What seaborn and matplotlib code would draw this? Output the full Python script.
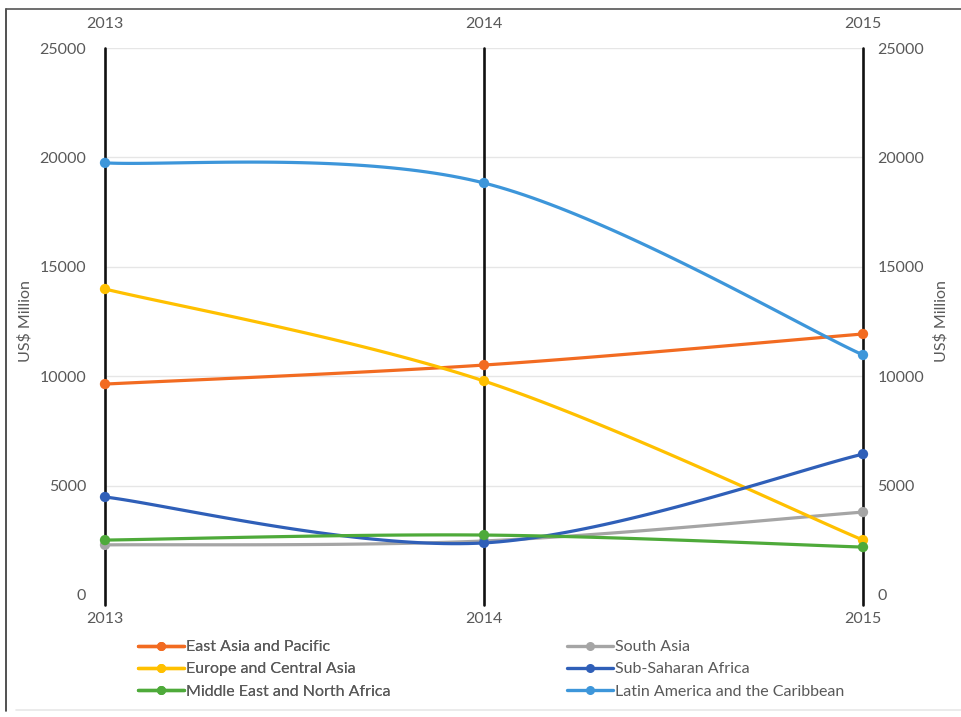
import numpy as np
import pandas as pd
import matplotlib
matplotlib.use("Agg")
import matplotlib.pyplot as plt
from matplotlib.lines import Line2D
import seaborn as sns

years = [2013, 2014, 2015]
series_names = ["East Asia and Pacific", "South Asia", "Europe and Central Asia",
                "Sub-Saharan Africa", "Middle East and North Africa",
                "Latin America and the Caribbean"]
east_asia = [9640, 10510, 11930]
south_asia = [2290, 2470, 3790]
europe = [13985, 9780, 2510]
sub_saharan = [4480, 2380, 6440]
mena = [2510, 2740, 2190]
latam = [19750, 18830, 10970]
values = [east_asia, south_asia, europe, sub_saharan, mena, latam]
colors = ["#F26B21", "#A5A5A5", "#FFC000", "#2F5FB8", "#4EAA3A", "#3D96DA"]
yticks = [0, 5000, 10000, 15000, 20000, 25000]

sns.set_theme(style="white")
plt.rcParams["font.family"] = ["Lato", "DejaVu Sans"]
TXT = "#595959"
FS = 11.5


def bezier_smooth(xs, ys, n=50):
    pts = np.column_stack([np.asarray(xs, float), np.asarray(ys, float)])
    out = []
    for i in range(len(pts) - 1):
        p0, p3 = pts[i], pts[i + 1]
        pm = pts[i - 1] if i > 0 else pts[i]
        pp = pts[i + 2] if i + 2 < len(pts) else pts[i + 1]
        c1 = p0 + (p3 - pm) / 6
        c2 = p3 - (pp - p0) / 6
        t = np.linspace(0, 1, n)[:, None]
        seg = (1 - t) ** 3 * p0 + 3 * (1 - t) ** 2 * t * c1 + 3 * (1 - t) * t ** 2 * c2 + t ** 3 * p3
        out.append(seg if i == 0 else seg[1:])
    return np.vstack(out)


rows_pts = []
rows_smooth = []
for name, vals in zip(series_names, values):
    for x, v in zip(years, vals):
        rows_pts.append({"year": x, "value": v, "series": name})
    sm = bezier_smooth(years, vals)
    for k, (x, v) in enumerate(sm):
        rows_smooth.append({"year": x, "value": v, "series": name, "k": k})
df_pts = pd.DataFrame(rows_pts)
df_sm = pd.DataFrame(rows_smooth)
palette = dict(zip(series_names, colors))

W, H = 961, 717
fig = plt.figure(figsize=(W / 100, H / 100), dpi=100)
ax = fig.add_axes([105 / W, 1 - 595 / H, (863 - 105) / W, (595 - 48) / H])

for y in yticks[1:]:
    ax.axhline(y, color="#E6E6E6", lw=1.0, zorder=0)

for x in years:
    ax.axvline(x, ymin=-0.018, ymax=1.0, color="#111111", lw=1.9, zorder=1, clip_on=False)

sns.lineplot(data=df_sm, x="year", y="value", hue="series", palette=palette,
             hue_order=series_names, sort=False, estimator=None, units="series",
             lw=2.3, ax=ax, legend=False, zorder=3)
sns.scatterplot(data=df_pts, x="year", y="value", hue="series", palette=palette,
                hue_order=series_names, s=55, edgecolor="none", ax=ax,
                legend=False, zorder=4, clip_on=False)

ax.set_xlim(2013, 2015)
ax.set_ylim(0, 25000)
ax.set_xticks(years)
ax.set_xticklabels([str(y) for y in years])
ax.set_yticks(yticks)
ax.set_yticklabels([str(v) for v in yticks])
for s in ax.spines.values():
    s.set_visible(False)
ax.tick_params(axis="x", length=0, pad=12, labelsize=FS, labelcolor=TXT)
ax.tick_params(axis="y", length=0, pad=13.5, labelsize=FS, labelcolor=TXT)
ax.set_xlabel("")
ax.set_ylabel("US$ Million", fontsize=FS, color=TXT, labelpad=5)

axr = ax.twinx()
axr.set_ylim(0, 25000)
axr.set_yticks(yticks)
axr.set_yticklabels([str(v) for v in yticks])
axr.tick_params(axis="y", length=0, pad=10.5, labelsize=FS, labelcolor=TXT)
axr.set_ylabel("US$ Million", fontsize=FS, color=TXT, labelpad=7)
for s in axr.spines.values():
    s.set_visible(False)
axr.grid(False)

axt = ax.twiny()
axt.set_xlim(2013, 2015)
axt.set_xticks(years)
axt.set_xticklabels([str(y) for y in years])
axt.tick_params(axis="x", length=0, pad=12.5, labelsize=FS, labelcolor=TXT)
for s in axt.spines.values():
    s.set_visible(False)
axt.grid(False)


def handle(c):
    return Line2D([], [], color=c, lw=2.4, marker="o", markersize=6.5,
                  markeredgewidth=0)


leg_kw = dict(loc="upper left", frameon=False, fontsize=FS, labelcolor=TXT,
              handlelength=2.9, handletextpad=0.08, labelspacing=0.5,
              borderpad=0, borderaxespad=0)
col1 = [0, 2, 4]
col2 = [1, 3, 5]
l1 = fig.legend([handle(colors[i]) for i in col1], [series_names[i] for i in col1],
                bbox_to_anchor=(138 / W, 1 - 640 / H), **leg_kw)
fig.add_artist(l1)
l2 = fig.legend([handle(colors[i]) for i in col2], [series_names[i] for i in col2],
                bbox_to_anchor=(567 / W, 1 - 640 / H), **leg_kw)

fig.add_artist(Line2D([6 / W, 6 / W], [1 - 9 / H, 1 - 711 / H], color="#333333", lw=1.2))
fig.add_artist(Line2D([6 / W, 1.0], [1 - 9 / H, 1 - 9 / H], color="#555555", lw=1.2))
fig.add_artist(Line2D([16 / W, 1.0], [1 - 710 / H, 1 - 710 / H], color="#E8E8E8", lw=1.2))

fig.savefig("out.png", dpi=100, facecolor="white")
